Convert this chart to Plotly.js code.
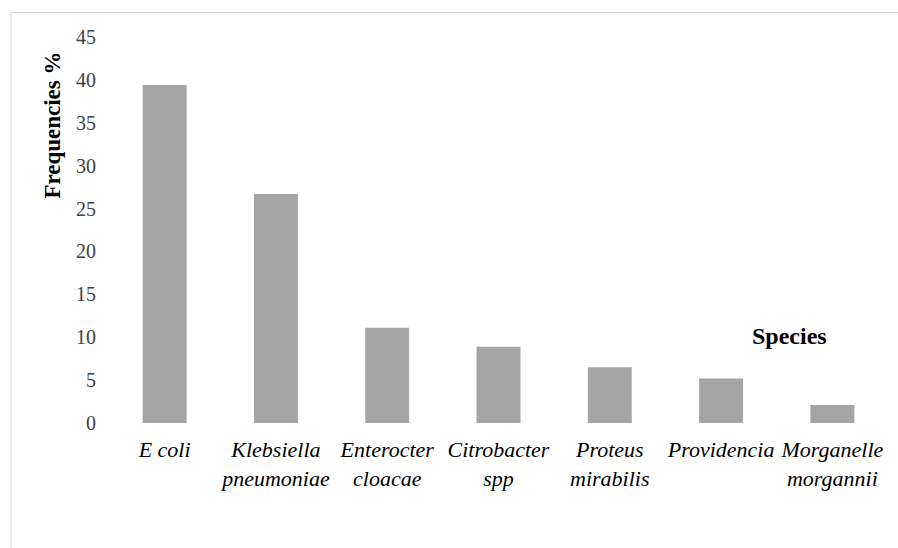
<!DOCTYPE html>
<html>
<head>
<meta charset="utf-8">
<script src="https://cdn.plot.ly/plotly-3.0.1.min.js"></script>
<style>
html,body{margin:0;padding:0;background:#fff;}
#chart{width:898px;height:548px;}
</style>
</head>
<body>
<div id="chart"></div>
<script>
var categories = ["E coli", "Klebsiella<br>pneumoniae", "Enterocter<br>cloacae", "Citrobacter<br>spp", "Proteus<br>mirabilis", "Providencia", "Morganelle<br>morgannii"];
var frequencies = [39.4, 26.7, 11.1, 8.9, 6.5, 5.2, 2.1];
var yTicks = [0, 5, 10, 15, 20, 25, 30, 35, 40, 45];
var yTitle = "Frequencies %";
var xTitle = "Species";

var serif = "Liberation Serif";

var trace = {
  type: "bar",
  x: categories,
  y: frequencies,
  marker: {color: "#a5a5a5", line: {width: 0}},
  hoverinfo: "x+y"
};

var layout = {
  width: 898,
  height: 548,
  margin: {l: 109, r: 10, t: 37, b: 125},
  paper_bgcolor: "#ffffff",
  plot_bgcolor: "#ffffff",
  bargap: 0.605,
  showlegend: false,
  font: {family: serif, color: "#000000"},
  xaxis: {
    type: "category",
    showline: false,
    showgrid: false,
    zeroline: false,
    ticks: "",
    tickangle: 0,
    ticklabelstandoff: 11,
    tickfont: {family: serif, size: 22, color: "#000000", style: "italic"}
  },
  yaxis: {
    range: [0, 45],
    tickvals: yTicks,
    ticktext: yTicks.map(String),
    showline: false,
    showgrid: false,
    zeroline: false,
    ticks: "",
    ticklabelstandoff: 12,
    tickfont: {family: serif, size: 20, color: "#404040"}
  },
  annotations: [
    {
      text: "<b>" + yTitle + "</b>",
      xref: "paper", yref: "paper",
      x: -0.0719, y: 0.773,
      xanchor: "center", yanchor: "middle",
      textangle: -90,
      showarrow: false,
      font: {family: serif, size: 23, color: "#000000"}
    },
    {
      text: "<b>" + xTitle + "</b>",
      xref: "paper", yref: "paper",
      x: 0.8736, y: 0.2254,
      xanchor: "center", yanchor: "middle",
      showarrow: false,
      font: {family: serif, size: 24, color: "#000000"}
    }
  ],
  shapes: [
    {
      type: "line",
      xref: "paper", yref: "paper",
      x0: -0.1258, x1: -0.1258,
      y0: -0.5, y1: 1.0635,
      line: {color: "#d9d9d9", width: 1.2},
      layer: "below"
    },
    {
      type: "line",
      xref: "paper", yref: "paper",
      x0: -0.1258, x1: 1.2,
      y0: 1.0635, y1: 1.0635,
      line: {color: "#d9d9d9", width: 1.2},
      layer: "below"
    }
  ]
};

Plotly.newPlot("chart", [trace], layout, {displayModeBar: false, staticPlot: true});
</script>
</body>
</html>
